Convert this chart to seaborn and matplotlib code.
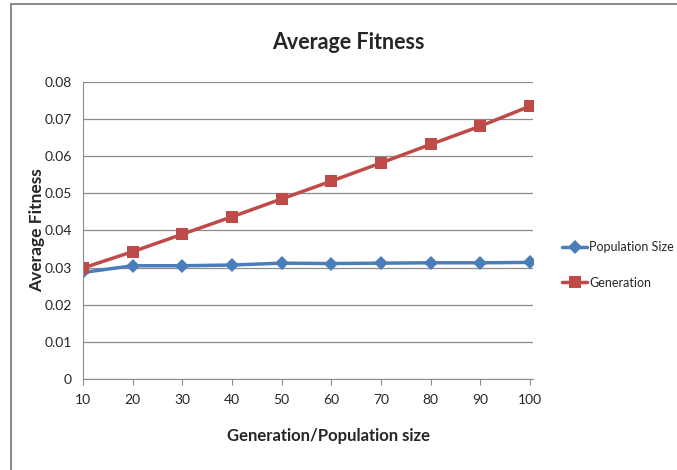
from matplotlib import pyplot as plt
from matplotlib.lines import Line2D
from matplotlib.ticker import FuncFormatter
import pandas as pd
import seaborn as sns

# values
x_values = [10, 20, 30, 40, 50, 60, 70, 80, 90, 100]
population_size = [0.0287, 0.0305, 0.0305, 0.0307, 0.0312, 0.0311, 0.0312, 0.0313, 0.0313, 0.0314]
generation = [0.0299, 0.0343, 0.0390, 0.0437, 0.0485, 0.0533, 0.0582, 0.0632, 0.0681, 0.0735]
y_ticks = [0, 0.01, 0.02, 0.03, 0.04, 0.05, 0.06, 0.07, 0.08]

sns.set_style('white')
plt.rcParams['font.family'] = ['Lato', 'DejaVu Sans']

fig = plt.figure(figsize=(6.77, 4.70), dpi=100)
ax = fig.add_axes([0.1226, 0.1936, 0.664, 0.632])

df = pd.DataFrame({'x': x_values, 'Population Size': population_size, 'Generation': generation})

sns.lineplot(data=df, x='x', y='Population Size', ax=ax, color='#4A7EBB', linewidth=2.5,
             marker='D', markersize=7, markeredgewidth=0, label='Population Size')
sns.lineplot(data=df, x='x', y='Generation', ax=ax, color='#BE4B48', linewidth=2.5,
             marker='s', markersize=8, markeredgewidth=0, label='Generation')

ax.set_xlim(10, 100.5)
ax.set_ylim(0, 0.08)
ax.set_xticks(x_values)
ax.set_yticks(y_ticks)
ax.yaxis.set_major_formatter(FuncFormatter(lambda v, p: '0' if v == 0 else f'{v:.2f}'))
ax.grid(axis='y', color='#8c8c8c', linewidth=0.9)
ax.set_axisbelow(True)
ax.tick_params(axis='x', length=4, color='#8c8c8c', direction='out', bottom=True, labelsize=10, pad=7)
ax.tick_params(axis='y', length=0, labelsize=10, pad=8)
for side in ['top', 'right']:
    ax.spines[side].set_visible(False)
for side in ['left', 'bottom']:
    ax.spines[side].set_color('#8c8c8c')

ax.set_title('Average Fitness', fontsize=15.5, fontweight='bold', x=0.59, pad=24)
ax.set_xlabel('Generation/Population size', fontsize=12, fontweight='bold')
ax.xaxis.set_label_coords(0.547, -0.165)
ax.set_ylabel('Average Fitness', fontsize=12.5, fontweight='bold')
ax.yaxis.set_label_coords(-0.085, 0.5)

ax.legend(loc='center left', bbox_to_anchor=(1.055, 0.384), frameon=False, fontsize=9,
          borderaxespad=0, handlelength=2.0, handletextpad=0.15, labelspacing=1.9)

# chart border: only top and left edges show in the reference
top_y = 1 - 3.5 / 470
left_x = 11 / 677
fig.add_artist(Line2D([left_x, 1], [top_y, top_y], transform=fig.transFigure, color='#8c8c8c', linewidth=1.5))
fig.add_artist(Line2D([left_x, left_x], [0, top_y], transform=fig.transFigure, color='#8c8c8c', linewidth=1.5))

fig.savefig('out.png', dpi=100)
